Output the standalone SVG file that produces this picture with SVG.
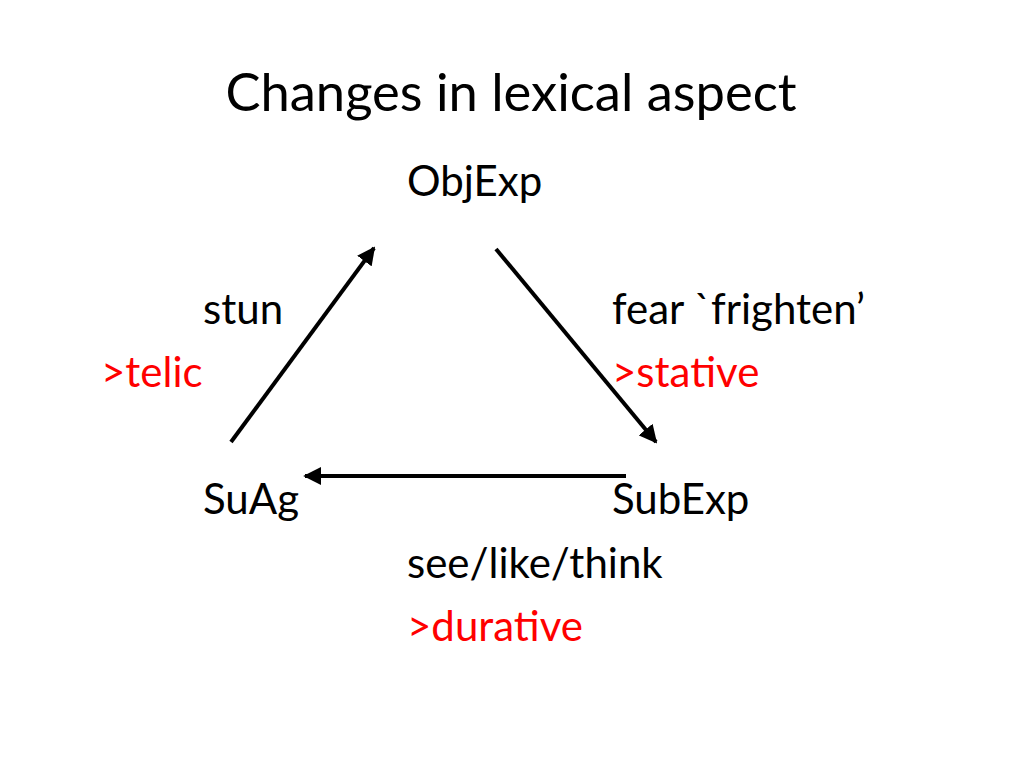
<svg xmlns="http://www.w3.org/2000/svg" width="1024" height="768" viewBox="0 0 1024 768">
<style>
text{font-family:Lato,"Open Sans","Liberation Sans",sans-serif;fill:#000}
.t{font-size:52.5px}
.b{font-size:42px}
.r{fill:#ff0000}
.c{stroke:#000;stroke-width:4;fill:none;marker-end:url(#ah)}
</style>
<defs>
<marker id="ah" viewBox="0 0 10 10" refX="9" refY="5" markerWidth="4.5" markerHeight="4.5" orient="auto" markerUnits="strokeWidth">
<path d="M0,0 L10,5 L0,10 z" fill="#000"/>
</marker>
</defs>
<rect width="1024" height="768" fill="#fff"/>
<text class="t" x="511" y="111" text-anchor="middle">Changes in lexical aspect</text>
<g id="objexp"><text class="b" x="407" y="196">ObjExp</text></g>
<g id="suag"><text class="b" x="203" y="514">SuAg</text></g>
<g id="subexp"><text class="b" x="612" y="514">SubExp</text></g>
<g id="label-stun"><text class="b" x="203" y="324">stun</text><text class="b r" x="101" y="387">&gt;telic</text></g>
<g id="label-fear"><text class="b" x="612" y="324">fear `frighten’</text><text class="b r" x="612" y="387">&gt;stative</text></g>
<g id="label-see"><text class="b" x="407" y="578">see/like/think</text><text class="b r" x="407" y="641">&gt;durative</text></g>
<g id="connectors">
<line class="c" x1="231" y1="442" x2="374" y2="248"/>
<line class="c" x1="496" y1="249" x2="656" y2="442"/>
<line class="c" x1="626" y1="476" x2="305" y2="476"/>
</g>
</svg>
